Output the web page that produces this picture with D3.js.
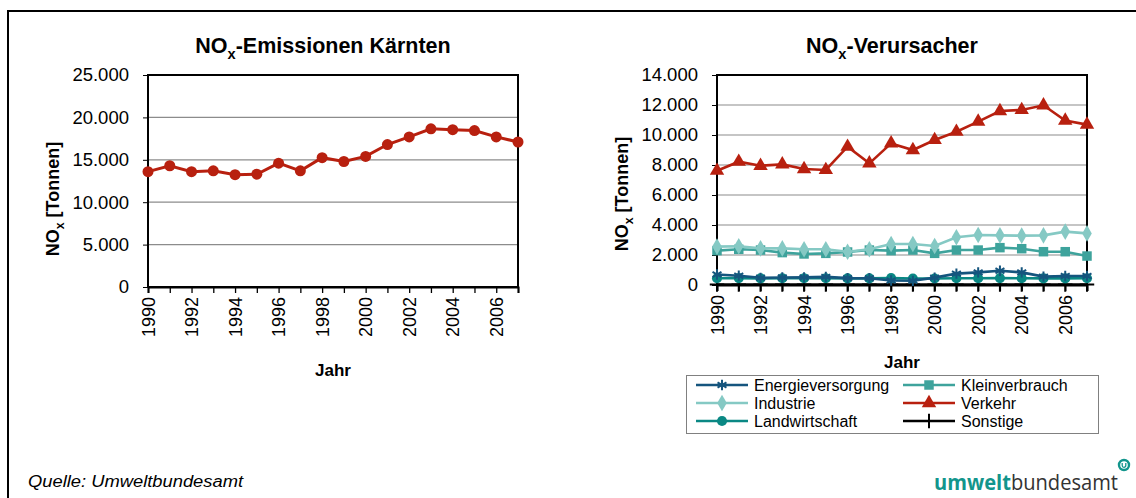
<!DOCTYPE html>
<html>
<head>
<meta charset="utf-8">
<script src="https://cdn.jsdelivr.net/npm/d3@7"></script>
<style>
  body { margin: 0; background: #fff; }
  svg { font-family: "Liberation Sans", Arial, sans-serif; }
</style>
</head>
<body>
<svg id="chart" width="1136" height="498"></svg>
<script>
const years = [1990, 1991, 1992, 1993, 1994, 1995, 1996, 1997, 1998, 1999,
               2000, 2001, 2002, 2003, 2004, 2005, 2006, 2007];
const yearLabels = [1990, 1992, 1994, 1996, 1998, 2000, 2002, 2004, 2006];

// NOx Kärnten gesamt [t]
const totalNox = [13600, 14300, 13600, 13700, 13250, 13300, 14600, 13700, 15250, 14800,
                  15400, 16800, 17700, 18650, 18550, 18450, 17700, 17100];
const totalTicks = [0, 5000, 10000, 15000, 20000, 25000];

// Verursacher [t]
const energie = [700, 620, 480, 500, 510, 540, 460, 450, 300, 280,
                 490, 760, 840, 950, 840, 560, 600, 600];
const klein = [2290, 2380, 2330, 2160, 2070, 2110, 2200, 2330, 2290, 2330,
               2110, 2330, 2330, 2490, 2420, 2220, 2220, 1930];
const industrie = [2560, 2580, 2440, 2440, 2380, 2380, 2220, 2380, 2730, 2730,
                   2600, 3180, 3330, 3310, 3290, 3310, 3560, 3440];
const verkehr = [7620, 8220, 7950, 8040, 7730, 7670, 9220, 8110, 9440, 9000,
                 9670, 10220, 10890, 11600, 11670, 11980, 10960, 10690];
const landwirtschaft = [450, 460, 440, 450, 450, 450, 440, 440, 460, 430,
                        430, 450, 450, 460, 450, 440, 440, 450];
const sonstige = [30, 30, 30, 30, 30, 30, 30, 30, 30, 30,
                  30, 30, 30, 30, 30, 30, 30, 30];
const sourceTicks = [0, 2000, 4000, 6000, 8000, 10000, 12000, 14000];

const series = [
  { name: "Energieversorgung", values: energie, color: "#15557e", symbol: d3.symbolAsterisk, size: 75, stroke: true },
  { name: "Kleinverbrauch", values: klein, color: "#3ea39c", symbol: d3.symbolSquare, size: 90 },
  { name: "Industrie", values: industrie, color: "#85c9c4", symbol: d3.symbolDiamond, size: 80 },
  { name: "Verkehr", values: verkehr, color: "#b8200f", symbol: d3.symbolTriangle, size: 90 },
  { name: "Landwirtschaft", values: landwirtschaft, color: "#0a8884", symbol: d3.symbolCircle, size: 80 },
  { name: "Sonstige", values: sonstige, color: "#000000", symbol: d3.symbolPlus, size: 70, stroke: true }
];
// draw order: lower lines first so Verkehr sits on top
const drawOrder = ["Sonstige", "Landwirtschaft", "Energieversorgung", "Kleinverbrauch", "Industrie", "Verkehr"];

const svg = d3.select("#chart");
const fmt = d => d3.format(",")(d).replace(/,/g, ".");

// outer frame (left + top)
svg.append("path")
  .attr("d", "M8,498V11H1136")
  .attr("fill", "none").attr("stroke", "#000").attr("stroke-width", 2);

function noxTitle(g, x, y, rest, size, rotate) {
  const t = g.append("text")
    .attr("text-anchor", "middle")
    .attr("font-weight", "bold")
    .attr("font-size", size)
    .attr("transform", `translate(${x},${y})` + (rotate ? " rotate(-90)" : ""));
  t.append("tspan").text("NO");
  t.append("tspan").attr("font-size", size * 0.68).attr("dy", size * 0.3).text("x");
  t.append("tspan").attr("dy", -size * 0.3).text(rest);
}

function drawPanel(cfg) {
  const g = svg.append("g");
  const x = d3.scaleLinear().domain([1990, 2007]).range([cfg.left, cfg.right]);
  const y = d3.scaleLinear().domain([0, cfg.max]).range([cfg.bottom, cfg.top]);

  // gridlines
  g.append("g").selectAll("line")
    .data(cfg.ticks.filter(d => d > 0 && d < cfg.max))
    .join("line")
    .attr("x1", cfg.left).attr("x2", cfg.right)
    .attr("y1", d => y(d)).attr("y2", d => y(d))
    .attr("stroke", "#8c8c8c").attr("stroke-width", 1.2);

  // plot frame
  g.append("rect")
    .attr("x", cfg.left).attr("y", cfg.top)
    .attr("width", cfg.right - cfg.left).attr("height", cfg.bottom - cfg.top)
    .attr("fill", "none").attr("stroke", "#000").attr("stroke-width", 2);

  // y axis
  const ya = g.append("g")
    .attr("transform", `translate(${cfg.left},0)`)
    .call(d3.axisLeft(y).tickValues(cfg.ticks).tickSize(5).tickPadding(14).tickFormat(fmt));
  ya.select(".domain").remove();
  ya.selectAll("line").attr("stroke", "#000");
  ya.selectAll("text").attr("font-size", 18.5).attr("fill", "#000")
    .attr("font-family", "Liberation Sans, Arial, sans-serif");

  // x axis
  const xa = g.append("g")
    .attr("transform", `translate(0,${cfg.bottom})`)
    .call(d3.axisBottom(x).tickValues(years).tickSize(6).tickFormat(""));
  xa.select(".domain").attr("stroke", "#000").attr("stroke-width", 2);
  xa.selectAll("line").attr("stroke", "#000").attr("stroke-width", 1.3);

  g.append("g").selectAll("text")
    .data(yearLabels)
    .join("text")
    .attr("transform", d => `translate(${x(d) + 6.5},${cfg.bottom + 10}) rotate(-90)`)
    .attr("text-anchor", "end")
    .attr("font-size", 18)
    .text(d => d);

  g.append("text")
    .attr("x", (cfg.left + cfg.right) / 2).attr("y", cfg.bottom + cfg.jahrDy)
    .attr("text-anchor", "middle").attr("font-weight", "bold").attr("font-size", 17)
    .text("Jahr");

  noxTitle(g, (cfg.left + cfg.right) / 2 - 10, 53, cfg.title, 21.5, false);
  noxTitle(g, cfg.ytitleX, cfg.ytitleY, " [Tonnen]", 18, true);

  return { g, x, y };
}

// left panel
const left = drawPanel({
  left: 148, right: 518, top: 75, bottom: 287, max: 25000,
  ticks: totalTicks, title: "-Emissionen Kärnten",
  ytitleX: 59, ytitleY: 199, jahrDy: 89
});
left.g.append("path")
  .datum(totalNox)
  .attr("fill", "none").attr("stroke", "#b8200f").attr("stroke-width", 3)
  .attr("d", d3.line().x((d, i) => left.x(years[i])).y(d => left.y(d)));
left.g.append("g").selectAll("circle")
  .data(totalNox)
  .join("circle")
  .attr("cx", (d, i) => left.x(years[i])).attr("cy", d => left.y(d))
  .attr("r", 5.5).attr("fill", "#b8200f");

// right panel
const right = drawPanel({
  left: 717, right: 1087, top: 75, bottom: 285, max: 14000,
  ticks: sourceTicks, title: "-Verursacher",
  ytitleX: 628, ytitleY: 194, jahrDy: 83
});

function markerPath(s) {
  return d3.symbol().type(s.symbol).size(s.size)();
}

drawOrder.forEach(name => {
  const s = series.find(d => d.name === name);
  const sg = right.g.append("g");
  sg.append("path")
    .datum(s.values)
    .attr("fill", "none").attr("stroke", s.color).attr("stroke-width", 2.6)
    .attr("d", d3.line().x((d, i) => right.x(years[i])).y(d => right.y(d)));
  sg.selectAll("path.m")
    .data(s.values)
    .join("path")
    .attr("class", "m")
    .attr("transform", (d, i) => `translate(${right.x(years[i])},${right.y(d)})`)
    .attr("d", markerPath(s))
    .attr("fill", s.stroke ? "none" : s.color)
    .attr("stroke", s.stroke ? s.color : "none")
    .attr("stroke-width", s.stroke ? 2 : 0);
});

// legend
const legend = svg.append("g");
legend.append("rect")
  .attr("x", 686.5).attr("y", 375.5).attr("width", 412).attr("height", 58)
  .attr("fill", "#fff").attr("stroke", "#808080").attr("stroke-width", 1);
series.forEach((s, i) => {
  const col = i % 2, row = Math.floor(i / 2);
  const lx = col === 0 ? 696 : 903;
  const ly = 385 + row * 18;
  const it = legend.append("g");
  it.append("line")
    .attr("x1", lx).attr("x2", lx + 52).attr("y1", ly).attr("y2", ly)
    .attr("stroke", s.color).attr("stroke-width", 2.6);
  it.append("path")
    .attr("transform", `translate(${lx + 26},${ly})`)
    .attr("d", markerPath(s))
    .attr("fill", s.stroke ? "none" : s.color)
    .attr("stroke", s.stroke ? s.color : "none")
    .attr("stroke-width", s.stroke ? 2 : 0);
  it.append("text")
    .attr("x", lx + 58).attr("y", ly + 5.5)
    .attr("font-size", 16)
    .text(s.name);
});

// footer
svg.append("text")
  .attr("x", 28).attr("y", 487)
  .attr("font-size", 16).attr("font-style", "italic")
  .attr("textLength", 215).attr("lengthAdjust", "spacingAndGlyphs")
  .text("Quelle: Umweltbundesamt");

const logo = svg.append("text")
  .attr("x", 934).attr("y", 490)
  .attr("font-size", 22)
  .attr("font-family", "Open Sans, DejaVu Sans, sans-serif")
  .attr("textLength", 184).attr("lengthAdjust", "spacingAndGlyphs");
logo.append("tspan").attr("fill", "#12958c").attr("font-weight", "bold").text("umwelt");
logo.append("tspan").attr("fill", "#333").text("bundesamt");
// small circled "u" emblem, drawn as a shape
const emb = svg.append("g").attr("transform", "translate(1124,465)");
emb.append("circle").attr("r", 5)
  .attr("fill", "none").attr("stroke", "#12958c").attr("stroke-width", 2.4);
emb.append("path").attr("d", "M-1.8,-2V0.6A1.8,1.8 0 0 0 1.8,0.6V-2")
  .attr("fill", "none").attr("stroke", "#12958c").attr("stroke-width", 1.3);
</script>
</body>
</html>
